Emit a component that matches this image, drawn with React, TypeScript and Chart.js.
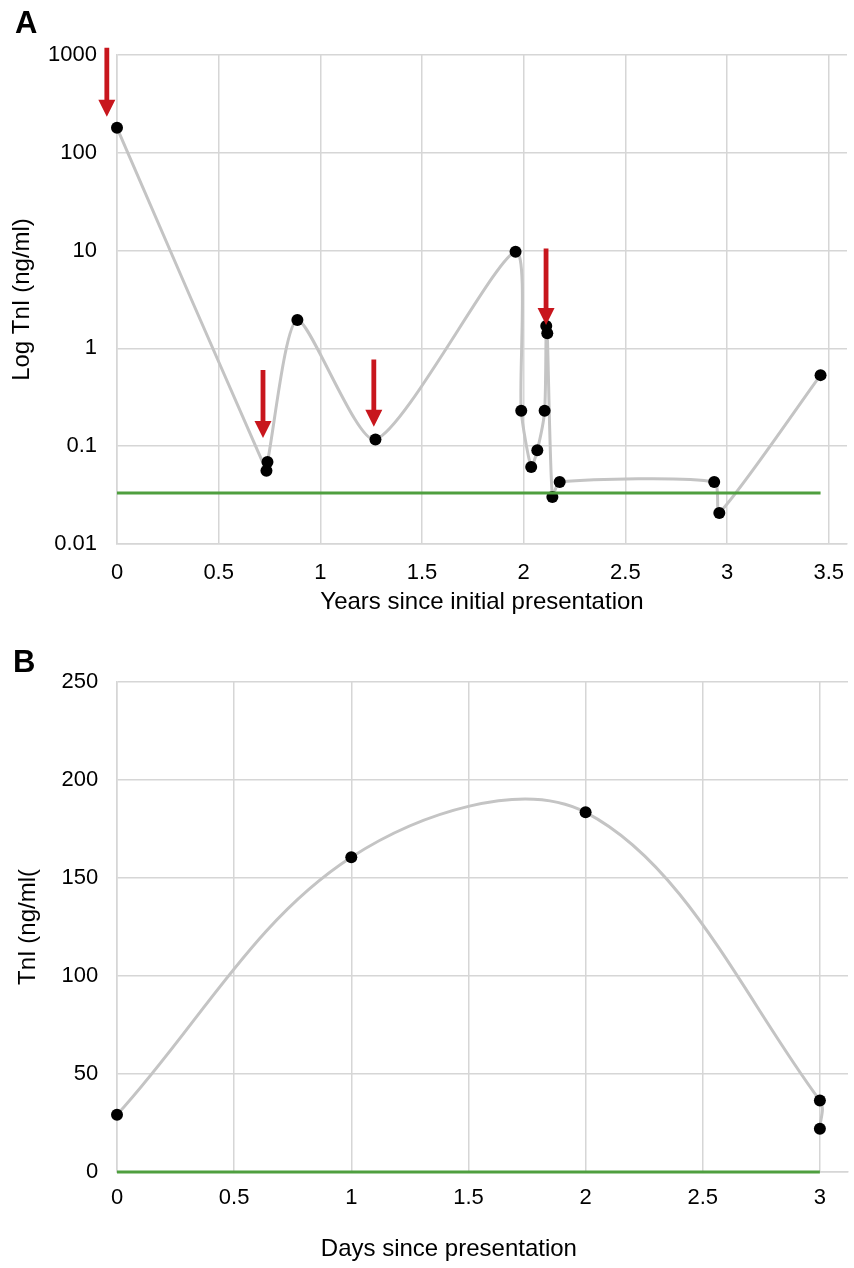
import React, { useEffect, useRef } from "react";
import { Chart, registerables } from "chart.js";

Chart.register(...registerables);

const FONT = "'Liberation Sans', Arial, Helvetica, sans-serif";
const GREY = "#c4c4c4";
const GREEN = "#4f9f3f";
const GRID = "#d6d6d6";
const RED = "#c8161d";

// ---------- Panel A data ----------
const yearsA = [0, 0.735, 0.74, 0.887, 1.271, 1.96, 1.988, 2.037, 2.067, 2.103, 2.111, 2.116, 2.141, 2.177, 2.937, 2.962, 3.46];
const tniA = [180, 0.056, 0.069, 1.95, 0.117, 9.75, 0.23, 0.0614, 0.091, 0.23, 1.69, 1.43, 0.0303, 0.043, 0.043, 0.0208, 0.533];
const thresholdXA = [0, 3.46];
const thresholdA = [0.0333, 0.0333];
const xTicksA = [0, 0.5, 1, 1.5, 2, 2.5, 3, 3.5];
const yTicksA = [0.01, 0.1, 1, 10, 100, 1000];
// arrows (x, top value, tip value)
const arrowX = [-0.05, 0.718, 1.263, 2.11];
const arrowTop = [1185, 0.6, 0.771, 10.5];
const arrowTip = [233, 0.121, 0.158, 1.73];

// ---------- Panel B data ----------
const daysB = [0, 1, 2, 3, 3];
const tniB = [29.2, 160.6, 183.5, 36.5, 22.1];
const thresholdXB = [0, 3];
const thresholdB = [0, 0];
const xTicksB = [0, 0.5, 1, 1.5, 2, 2.5, 3];

Chart.defaults.font.family = FONT;
Chart.defaults.color = "#000";

const arrowPlugin = {
  id: "arrows",
  afterDatasetsDraw(chart: any) {
    const { ctx, scales } = chart;
    const x = scales.x;
    const y = scales.y;
    ctx.save();
    ctx.fillStyle = RED;
    arrowX.forEach((ax, i) => {
      const px = x.getPixelForValue(ax);
      const top = y.getPixelForValue(arrowTop[i]);
      const tip = y.getPixelForValue(arrowTip[i]);
      const headLen = 17;
      const headHalf = 8.5;
      const shaftHalf = 2.4;
      ctx.beginPath();
      ctx.moveTo(px - shaftHalf, top);
      ctx.lineTo(px + shaftHalf, top);
      ctx.lineTo(px + shaftHalf, tip - headLen);
      ctx.lineTo(px + headHalf, tip - headLen);
      ctx.lineTo(px, tip);
      ctx.lineTo(px - headHalf, tip - headLen);
      ctx.lineTo(px - shaftHalf, tip - headLen);
      ctx.closePath();
      ctx.fill();
    });
    ctx.restore();
  },
};

const bTitlePlugin = {
  id: "bTitle",
  afterDraw(chart: any) {
    const { ctx, chartArea } = chart;
    ctx.save();
    ctx.font = `24px ${FONT}`;
    ctx.fillStyle = "#000";
    ctx.textAlign = "center";
    ctx.textBaseline = "middle";
    const cx = chartArea.left + (chartArea.right - chartArea.left) * 0.454;
    ctx.fillText("Days since presentation", cx, chartArea.bottom + 77);
    ctx.restore();
  },
};

function lineDataset(xs: number[], ys: number[], extra: any) {
  return Object.assign(
    {
      data: xs.map((x, i) => ({ x, y: ys[i] })),
      clip: false,
      fill: false,
    },
    extra
  );
}

function configA(): any {
  return {
    type: "line",
    data: {
      datasets: [
        lineDataset(thresholdXA, thresholdA, {
          borderColor: GREEN,
          borderWidth: 3,
          pointRadius: 0,
          tension: 0,
        }),
        lineDataset(yearsA, tniA, {
          borderColor: GREY,
          borderWidth: 3,
          tension: 0.22,
          pointRadius: 6,
          pointBackgroundColor: "#000",
          pointBorderColor: "#000",
          pointBorderWidth: 0,
        }),
      ],
    },
    options: {
      animation: false,
      responsive: false,
      maintainAspectRatio: false,
      events: [],
      layout: { padding: { top: 55, right: 7, bottom: 0, left: 0 } },
      plugins: { legend: { display: false }, tooltip: { enabled: false } },
      scales: {
        x: {
          type: "linear",
          min: 0,
          max: 3.59,
          afterBuildTicks: (s: any) => {
            s.ticks = xTicksA.map((v) => ({ value: v }));
          },
          afterFit: (s: any) => {
            s.height = 86;
            s.paddingLeft = 0;
            s.paddingRight = 0;
          },
          grid: { color: GRID, lineWidth: 1.5, drawTicks: false },
          border: { color: GRID, width: 1.5 },
          ticks: {
            padding: 15.5,
            font: { size: 22 },
            color: "#000",
            autoSkip: false,
            maxRotation: 0,
            callback: (v: any) => String(v),
          },
          title: {
            display: true,
            text: "Years since initial presentation",
            font: { size: 24 },
            color: "#000",
            padding: { top: 0, bottom: 13.5 },
          },
        },
        y: {
          type: "logarithmic",
          min: 0.01,
          max: 1000,
          afterBuildTicks: (s: any) => {
            s.ticks = yTicksA.map((v) => ({ value: v }));
          },
          afterFit: (s: any) => {
            s.width = 117;
            s.paddingTop = 0;
            s.paddingBottom = 0;
          },
          grid: { color: GRID, lineWidth: 1.5, drawTicks: false },
          border: { color: GRID, width: 1.5 },
          ticks: {
            padding: 20,
            font: { size: 22 },
            color: "#000",
            autoSkip: false,
            callback: (v: any) => String(v),
          },
          title: {
            display: true,
            text: "Log TnI (ng/ml)",
            font: { size: 24 },
            color: "#000",
            padding: { top: 7.8, bottom: 0 },
          },
        },
      },
    },
    plugins: [arrowPlugin],
  };
}

function configB(): any {
  return {
    type: "line",
    data: {
      datasets: [
        lineDataset(thresholdXB, thresholdB, {
          borderColor: GREEN,
          borderWidth: 3,
          pointRadius: 0,
          tension: 0,
        }),
        lineDataset(daysB, tniB, {
          borderColor: GREY,
          borderWidth: 3,
          tension: 0.35,
          pointRadius: 6,
          pointBackgroundColor: "#000",
          pointBorderColor: "#000",
          pointBorderWidth: 0,
        }),
      ],
    },
    options: {
      animation: false,
      responsive: false,
      maintainAspectRatio: false,
      events: [],
      layout: { padding: { top: 52, right: 4, bottom: 0, left: 0 } },
      plugins: { legend: { display: false }, tooltip: { enabled: false } },
      scales: {
        x: {
          type: "linear",
          min: 0,
          max: 3.12,
          afterBuildTicks: (s: any) => {
            s.ticks = xTicksB.map((v) => ({ value: v }));
          },
          afterFit: (s: any) => {
            s.height = 96;
            s.paddingLeft = 0;
            s.paddingRight = 0;
          },
          grid: { color: GRID, lineWidth: 1.5, drawTicks: false },
          border: { color: GRID, width: 1.5 },
          ticks: {
            padding: 13.2,
            font: { size: 22 },
            color: "#000",
            autoSkip: false,
            maxRotation: 0,
            callback: (v: any) => String(v),
          },
          title: { display: false },
        },
        y: {
          type: "linear",
          min: 0,
          max: 250,
          ticks: {
            stepSize: 50,
            padding: 18.7,
            font: { size: 22 },
            color: "#000",
            callback: (v: any) => String(v),
          },
          afterFit: (s: any) => {
            s.width = 117;
            s.paddingTop = 0;
            s.paddingBottom = 0;
          },
          grid: { color: GRID, lineWidth: 1.5, drawTicks: false },
          border: { color: GRID, width: 1.5 },
          title: {
            display: true,
            text: "TnI (ng/ml(",
            font: { size: 24 },
            color: "#000",
            padding: { top: 13.5, bottom: 0 },
          },
        },
      },
    },
    plugins: [bTitlePlugin],
  };
}

export default function App() {
  const refA = useRef<HTMLCanvasElement | null>(null);
  const refB = useRef<HTMLCanvasElement | null>(null);

  useEffect(() => {
    const a = new Chart(refA.current as HTMLCanvasElement, configA());
    const b = new Chart(refB.current as HTMLCanvasElement, configB());
    return () => {
      a.destroy();
      b.destroy();
    };
  }, []);

  const labelStyle: React.CSSProperties = {
    position: "absolute",
    fontFamily: FONT,
    fontWeight: "bold",
    fontSize: 31,
    lineHeight: "31px",
    color: "#000",
  };

  return (
    <div style={{ position: "absolute", left: 0, top: 0, width: 854, height: 1268, background: "#fff" }}>
      <canvas ref={refA} width={854} height={630} style={{ position: "absolute", left: 0, top: 0, width: 854, height: 630 }} />
      <canvas ref={refB} width={854} height={638} style={{ position: "absolute", left: 0, top: 630, width: 854, height: 638 }} />
      <div style={{ ...labelStyle, left: 15, top: 7 }}>A</div>
      <div style={{ ...labelStyle, left: 13, top: 646 }}>B</div>
    </div>
  );
}
